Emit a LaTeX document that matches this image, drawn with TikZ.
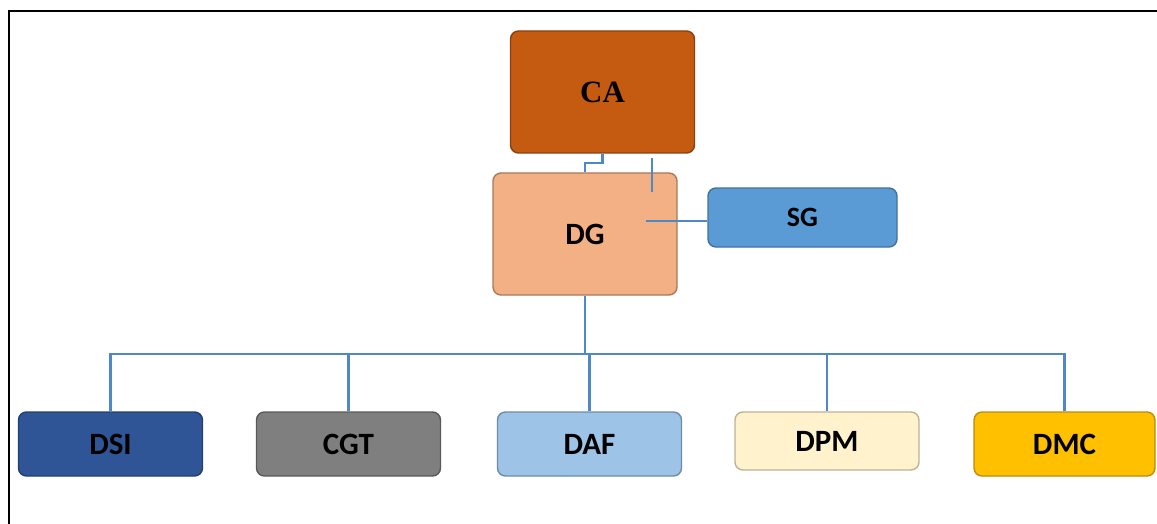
\documentclass[tikz,border=0pt]{standalone}
\usepackage{fontspec}
\setmainfont{Carlito}
\newfontfamily\serifbold{Liberation Serif}
\definecolor{caFill}{HTML}{C55A11}
\definecolor{caLine}{HTML}{8A4010}
\definecolor{dgFill}{HTML}{F2B084}
\definecolor{dgLine}{HTML}{A87A5C}
\definecolor{sgFill}{HTML}{5B9BD5}
\definecolor{sgLine}{HTML}{41719C}
\definecolor{dsiFill}{HTML}{2F5597}
\definecolor{dsiLine}{HTML}{223F70}
\definecolor{cgtFill}{HTML}{7F7F7F}
\definecolor{cgtLine}{HTML}{595959}
\definecolor{dafFill}{HTML}{9DC3E6}
\definecolor{dafLine}{HTML}{6E8BA8}
\definecolor{dpmFill}{HTML}{FFF2CC}
\definecolor{dpmLine}{HTML}{BDB393}
\definecolor{dmcFill}{HTML}{FFC000}
\definecolor{dmcLine}{HTML}{B88D10}
\definecolor{linkBlue}{HTML}{4F88C6}
\tikzset{
  unit/.style={draw, rounded corners=8pt, line width=1.4pt, inner sep=0pt,
    font=\fontsize{31}{34}\selectfont\bfseries, text=black},
  topbox/.style={unit, minimum width=184pt, minimum height=122pt},
  sidebox/.style={unit, minimum width=189pt, minimum height=59pt},
  lowbox/.style={unit, minimum width=184pt, minimum height=64pt},
  link/.style={draw=linkBlue, line width=2.2pt},
  frame/.style={draw=black, line width=2.2pt}
}
\begin{document}
\begin{tikzpicture}[x=1pt, y=-1pt]
\useasboundingbox (0,0) rectangle (1157,524);
% outer frame (top and left edges)
\draw[frame] (9,524) -- (9,11) -- (1157,11);

% top levels
\node[topbox, fill=caFill, draw=caLine, font=\fontsize{31}{34}\selectfont\serifbold\bfseries] (CA) at (602.5,92) {CA};
\node[topbox, fill=dgFill, draw=dgLine] (DG) at (585,234) {DG};
\node[sidebox, fill=sgFill, draw=sgLine, font=\fontsize{28}{31}\selectfont\bfseries] (SG) at (802.5,217.5) {SG};

% departments
\node[lowbox, fill=dsiFill, draw=dsiLine] (DSI) at (110.5,444) {DSI};
\node[lowbox, fill=cgtFill, draw=cgtLine] (CGT) at (348.5,444) {CGT};
\node[lowbox, fill=dafFill, draw=dafLine] (DAF) at (589.5,444) {DAF};
\node[lowbox, fill=dpmFill, draw=dpmLine, minimum height=58pt] (DPM) at (827,441) {DPM};
\node[lowbox, fill=dmcFill, draw=dmcLine, minimum width=181pt] (DMC) at (1064.5,444) {DMC};

% CA to DG
\draw[link] (CA.south) -- ++(0,9) -| (DG.north);
% stub and branch towards SG
\coordinate (stubTop) at (652,158);
\coordinate (stubEnd) at (652,192);
\draw[link] (stubTop) -- (stubEnd);
\coordinate (sgTap) at (646,221);
\draw[link] (sgTap) -- (sgTap -| SG.west);

% DG to the department bus
\draw[link] (DG.south) -- ++(0,58) coordinate (bus);
\draw[link] (DSI.north) |- (bus);
\draw[link] (CGT.north) |- (bus);
\draw[link] (DAF.north) |- (bus);
\draw[link] (DPM.north) |- (bus);
\draw[link] (DMC.north) |- (bus);
\end{tikzpicture}
\end{document}
